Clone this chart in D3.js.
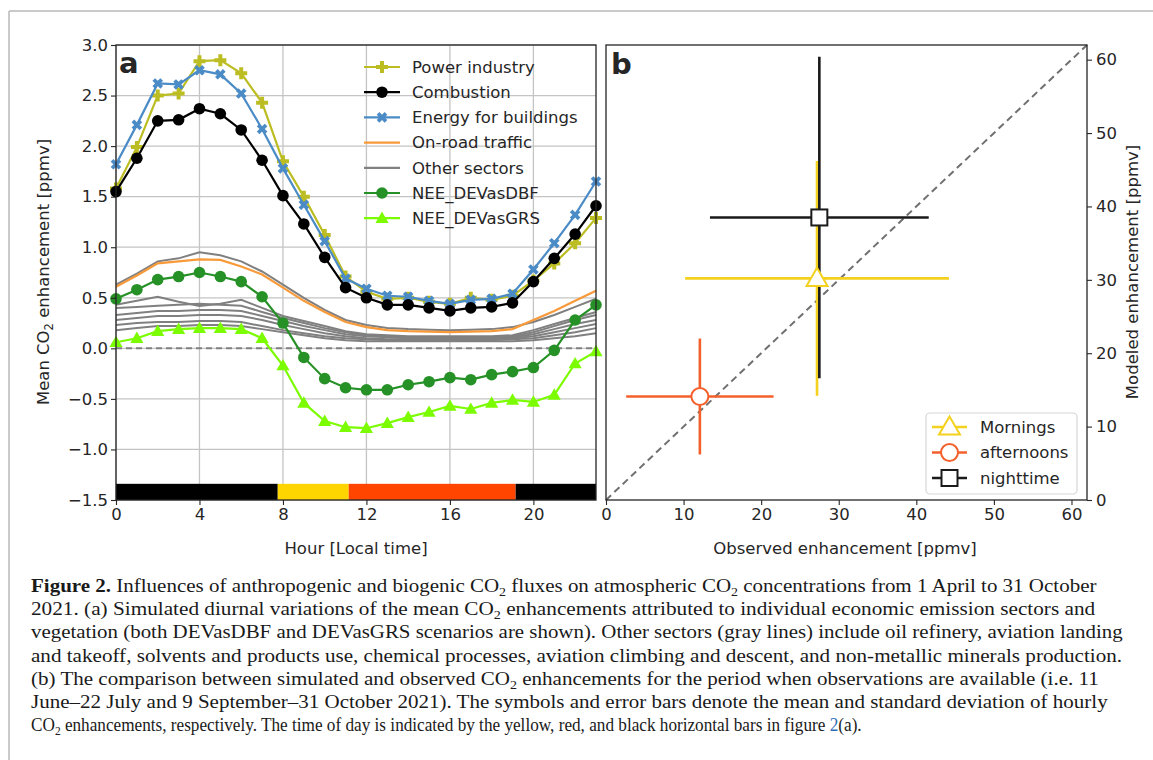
<!DOCTYPE html>
<html>
<head>
<meta charset="utf-8">
<script src="https://cdn.jsdelivr.net/npm/d3@7"></script>
<style>
body { margin: 0; background: #fff; }
svg text { font-family: "DejaVu Sans", sans-serif; fill: #262626; }
</style>
</head>
<body>
<svg id="fig" width="1153" height="760"></svg>
<script>
// ---- panel a data (hourly mean CO2 enhancement, ppmv) ----
const hours = [0,1,2,3,4,5,6,7,8,9,10,11,12,13,14,15,16,17,18,19,20,21,22,23];

const powerIndustry = [1.58,1.99,2.50,2.52,2.84,2.85,2.72,2.43,1.85,1.50,1.12,0.71,0.56,0.49,0.50,0.46,0.44,0.50,0.48,0.52,0.67,0.84,1.04,1.29];
const combustion    = [1.55,1.88,2.25,2.26,2.37,2.32,2.16,1.86,1.51,1.23,0.90,0.60,0.50,0.43,0.43,0.40,0.37,0.40,0.41,0.45,0.66,0.89,1.13,1.41];
const energyBuild   = [1.82,2.21,2.62,2.61,2.75,2.71,2.52,2.17,1.78,1.42,1.06,0.69,0.59,0.52,0.51,0.47,0.44,0.48,0.49,0.54,0.78,1.04,1.32,1.65];
const onRoad        = [0.61,0.72,0.84,0.86,0.88,0.875,0.81,0.73,0.60,0.47,0.36,0.26,0.21,0.18,0.17,0.165,0.16,0.165,0.17,0.19,0.28,0.37,0.47,0.57];
const neeDBF        = [0.49,0.58,0.68,0.71,0.75,0.71,0.66,0.51,0.25,-0.09,-0.30,-0.39,-0.41,-0.41,-0.36,-0.33,-0.29,-0.31,-0.26,-0.23,-0.19,-0.02,0.28,0.43];
const neeGRS        = [0.06,0.10,0.17,0.19,0.20,0.20,0.19,0.10,-0.17,-0.54,-0.72,-0.78,-0.79,-0.74,-0.68,-0.63,-0.57,-0.60,-0.54,-0.51,-0.53,-0.46,-0.15,-0.03];

// other sectors (gray lines)
const otherSectors = [
  [0.63,0.74,0.86,0.89,0.95,0.92,0.86,0.76,0.63,0.50,0.38,0.28,0.23,0.20,0.19,0.185,0.18,0.185,0.19,0.21,0.26,0.33,0.41,0.49],
  [0.43,0.47,0.51,0.46,0.42,0.44,0.48,0.40,0.32,0.27,0.22,0.17,0.14,0.13,0.12,0.12,0.12,0.12,0.12,0.13,0.18,0.24,0.30,0.36],
  [0.40,0.41,0.42,0.43,0.44,0.43,0.42,0.36,0.30,0.25,0.20,0.16,0.13,0.12,0.11,0.11,0.11,0.11,0.11,0.12,0.16,0.22,0.28,0.33],
  [0.33,0.35,0.37,0.37,0.38,0.38,0.37,0.32,0.27,0.22,0.18,0.14,0.12,0.11,0.10,0.10,0.10,0.10,0.10,0.11,0.14,0.19,0.24,0.28],
  [0.28,0.30,0.32,0.32,0.33,0.33,0.32,0.28,0.23,0.19,0.15,0.12,0.10,0.09,0.09,0.09,0.09,0.09,0.09,0.10,0.12,0.16,0.20,0.24],
  [0.23,0.25,0.26,0.26,0.27,0.27,0.26,0.22,0.18,0.15,0.12,0.10,0.09,0.08,0.08,0.08,0.08,0.08,0.08,0.09,0.10,0.13,0.16,0.20],
  [0.18,0.20,0.22,0.22,0.23,0.23,0.22,0.19,0.16,0.13,0.10,0.08,0.07,0.07,0.07,0.07,0.07,0.07,0.07,0.07,0.08,0.10,0.12,0.15]
];

// time-of-day bar along bottom of panel a
const periodStart = [0, 7.75, 11.15, 19.15];
const periodEnd   = [7.75, 11.15, 19.15, 23];
const periodColor = ["#000000", "#ffd500", "#ff4500", "#000000"];

// ---- panel b data (ppmv) ----
const periodNames = ["Mornings", "afternoons", "nighttime"];
const obsMean = [27.2, 12.1, 27.5];
const obsStd  = [17.0, 9.5, 14.1];
const modMean = [30.2, 14.1, 38.5];
const modStd  = [16.0, 7.9, 21.9];

const yTicksA = [-1.5,-1.0,-0.5,0.0,0.5,1.0,1.5,2.0,2.5,3.0];
const xTicksA = [0,4,8,12,16,20];
const ticksB  = [0,10,20,30,40,50,60];

const caption = [
  [["b","Figure 2. "],["","Influences of anthropogenic and biogenic CO"],["s","2"],["", " fluxes on atmospheric CO"],["s","2"],[""," concentrations from 1 April to 31 October"]],
  [["","2021. (a) Simulated diurnal variations of the mean CO"],["s","2"],[""," enhancements attributed to individual economic emission sectors and"]],
  [["","vegetation (both DEVasDBF and DEVasGRS scenarios are shown). Other sectors (gray lines) include oil refinery, aviation landing"]],
  [["","and takeoff, solvents and products use, chemical processes, aviation climbing and descent, and non-metallic minerals production."]],
  [["","(b) The comparison between simulated and observed CO"],["s","2"],[""," enhancements for the period when observations are available (i.e. 11"]],
  [["","June\u201322 July and 9 September\u201331 October 2021). The symbols and error bars denote the mean and standard deviation of hourly"]],
  [["","CO"],["s","2"],[""," enhancements, respectively. The time of day is indicated by the yellow, red, and black horizontal bars in figure "],["l","2"],["","(a)."]]
];
const captionEnd = [1097, 1096, 1123, 1123, 1100, 1108, 862];

const svg = d3.select("#fig");

// figure frame
svg.append("line").attr("x1", 9).attr("x2", 1153).attr("y1", 11).attr("y2", 11)
  .attr("stroke", "#b8b8b8").attr("stroke-width", 1.5);
svg.append("line").attr("x1", 9).attr("x2", 9).attr("y1", 11).attr("y2", 760)
  .attr("stroke", "#b8b8b8").attr("stroke-width", 1.5);

const fontSize = 16.5;

// ================= panel a =================
const xA = d3.scaleLinear().domain([0, 23]).range([116, 596]);
const yA = d3.scaleLinear().domain([-1.5, 3.0]).range([500, 45]);

const gA = svg.append("g");

// grid
gA.selectAll(".gx").data(xTicksA).join("line")
  .attr("x1", d => xA(d)).attr("x2", d => xA(d)).attr("y1", 45).attr("y2", 500)
  .attr("stroke", "#c4c4c4").attr("stroke-width", 1.3);
gA.selectAll(".gy").data(yTicksA).join("line")
  .attr("x1", 116).attr("x2", 596).attr("y1", d => yA(d)).attr("y2", d => yA(d))
  .attr("stroke", "#c4c4c4").attr("stroke-width", 1.3);

const lineA = d3.line().x((d, i) => xA(hours[i])).y(d => yA(d));

// other sectors
gA.selectAll(".other").data(otherSectors).join("path")
  .attr("d", lineA).attr("fill", "none").attr("stroke", "#808080").attr("stroke-width", 2);

// zero line
gA.append("line").attr("x1", 116).attr("x2", 596).attr("y1", yA(0)).attr("y2", yA(0))
  .attr("stroke", "#808080").attr("stroke-width", 2).attr("stroke-dasharray", "6,4");

const symX = d3.symbol().type(d3.symbolCross).size(70);
const symP = d3.symbol().type(d3.symbolCross).size(80);
const symTri = d3.symbol().type(d3.symbolTriangle).size(75);

const seriesA = [
  {name: "On-road traffic", values: onRoad, color: "#f89a3a", marker: null},
  {name: "Power industry", values: powerIndustry, color: "#bcbd22", marker: "P"},
  {name: "Energy for buildings", values: energyBuild, color: "#4b8bc6", marker: "X"},
  {name: "Combustion", values: combustion, color: "#000000", marker: "o"},
  {name: "NEE_DEVasDBF", values: neeDBF, color: "#269126", marker: "o"},
  {name: "NEE_DEVasGRS", values: neeGRS, color: "#7cfc00", marker: "^"}
];

function drawMarker(sel, marker, color, x, y) {
  if (marker === "o") {
    sel.append("circle").attr("cx", x).attr("cy", y).attr("r", 5.8).attr("fill", color);
  } else if (marker === "X") {
    sel.append("path").attr("d", symX()).attr("fill", color)
      .attr("transform", `translate(${x},${y}) rotate(45)`);
  } else if (marker === "P") {
    sel.append("path").attr("d", symP()).attr("fill", color)
      .attr("transform", `translate(${x},${y})`);
  } else if (marker === "^") {
    sel.append("path").attr("d", symTri()).attr("fill", color)
      .attr("transform", `translate(${x},${y + 1})`);
  }
}

seriesA.forEach(s => {
  gA.append("path").attr("d", lineA(s.values)).attr("fill", "none")
    .attr("stroke", s.color).attr("stroke-width", 2.2);
  if (s.marker) {
    const mg = gA.append("g");
    s.values.forEach((v, i) => drawMarker(mg, s.marker, s.color, xA(hours[i]), yA(v)));
  }
});

// time-of-day bar
gA.selectAll(".tod").data(periodStart).join("rect")
  .attr("x", d => xA(d)).attr("width", (d, i) => xA(periodEnd[i]) - xA(d))
  .attr("y", yA(-1.34)).attr("height", yA(-1.5) - yA(-1.34))
  .attr("fill", (d, i) => periodColor[i]);

// axes a
const axLeftA = gA.append("g").attr("transform", "translate(116,0)")
  .call(d3.axisLeft(yA).tickValues(yTicksA).tickFormat(d3.format(".1f")).tickSize(5).tickSizeOuter(0));
const axBotA = gA.append("g").attr("transform", "translate(0,500)")
  .call(d3.axisBottom(xA).tickValues(xTicksA).tickFormat(d3.format("d")).tickSize(5).tickSizeOuter(0));
[axLeftA, axBotA].forEach(a => {
  a.select(".domain").remove();
  a.selectAll("text").style("font-size", fontSize + "px").attr("fill", "#262626");
  a.selectAll("line").attr("stroke", "#262626").attr("stroke-width", 1.1);
});
axLeftA.selectAll("text").attr("x", -8);
axBotA.selectAll("text").attr("y", 8);
gA.append("rect").attr("x", 116).attr("y", 45).attr("width", 480).attr("height", 455)
  .attr("fill", "none").attr("stroke", "#262626").attr("stroke-width", 1.3);

gA.append("text").attr("x", 119).attr("y", 73).text("a")
  .style("font-size", "29px").style("font-weight", "bold").attr("fill", "#000");

gA.append("text").attr("x", 356).attr("y", 554).attr("text-anchor", "middle")
  .style("font-size", fontSize + "px").text("Hour [Local time]");
const ylabA = gA.append("text").attr("transform", "translate(49,272) rotate(-90)")
  .attr("text-anchor", "middle").style("font-size", fontSize + "px");
ylabA.append("tspan").text("Mean CO");
ylabA.append("tspan").text("2").style("font-size", "11.5px").attr("dy", 4);
ylabA.append("tspan").text(" enhancement [ppmv]").attr("dy", -4);

// legend a (no frame)
const legA = [
  {name: "Power industry", color: "#bcbd22", marker: "P"},
  {name: "Combustion", color: "#000000", marker: "o"},
  {name: "Energy for buildings", color: "#4b8bc6", marker: "X"},
  {name: "On-road traffic", color: "#f89a3a", marker: null},
  {name: "Other sectors", color: "#808080", marker: null},
  {name: "NEE_DEVasDBF", color: "#269126", marker: "o"},
  {name: "NEE_DEVasGRS", color: "#7cfc00", marker: "^"}
];
legA.forEach((d, i) => {
  const y = 67 + i * 25.2;
  const g = gA.append("g");
  g.append("line").attr("x1", 364).attr("x2", 400).attr("y1", y).attr("y2", y)
    .attr("stroke", d.color).attr("stroke-width", 2.2);
  if (d.marker) drawMarker(g, d.marker, d.color, 382, y);
  g.append("text").attr("x", 412).attr("y", y).attr("dy", "0.35em")
    .style("font-size", fontSize + "px").text(d.name);
});

// ================= panel b =================
const xB = d3.scaleLinear().domain([0, 62]).range([606, 1087]);
const yB = d3.scaleLinear().domain([0, 62]).range([500, 45]);
const gB = svg.append("g");
const colB = ["#f3d11e", "#f4602c", "#1a1a1a"];

gB.append("line").attr("x1", xB(0)).attr("y1", yB(0)).attr("x2", xB(62)).attr("y2", yB(62))
  .attr("stroke", "#707070").attr("stroke-width", 2).attr("stroke-dasharray", "7,4.5");

const order = [0, 1, 2];
order.forEach(i => {
  const g = gB.append("g");
  g.append("line").attr("x1", xB(obsMean[i] - obsStd[i])).attr("x2", xB(obsMean[i] + obsStd[i]))
    .attr("y1", yB(modMean[i])).attr("y2", yB(modMean[i]))
    .attr("stroke", colB[i]).attr("stroke-width", 2.6);
  g.append("line").attr("x1", xB(obsMean[i])).attr("x2", xB(obsMean[i]))
    .attr("y1", yB(modMean[i] - modStd[i])).attr("y2", yB(modMean[i] + modStd[i]))
    .attr("stroke", colB[i]).attr("stroke-width", 2.6);
});

function drawMarkerB(sel, i, x, y) {
  if (i === 0) {
    sel.append("path").attr("d", d3.symbol().type(d3.symbolTriangle).size(190)())
      .attr("transform", `translate(${x},${y + 1.5})`)
      .attr("fill", "#fff").attr("stroke", colB[i]).attr("stroke-width", 2);
  } else if (i === 1) {
    sel.append("circle").attr("cx", x).attr("cy", y).attr("r", 8.5)
      .attr("fill", "#fff").attr("stroke", colB[i]).attr("stroke-width", 2);
  } else {
    sel.append("rect").attr("x", x - 8).attr("y", y - 8).attr("width", 16).attr("height", 16)
      .attr("fill", "#fff").attr("stroke", colB[i]).attr("stroke-width", 2);
  }
}
order.forEach(i => drawMarkerB(gB, i, xB(obsMean[i]), yB(modMean[i])));

// axes b
const axBotB = gB.append("g").attr("transform", "translate(0,500)")
  .call(d3.axisBottom(xB).tickValues(ticksB).tickFormat(d3.format("d")).tickSize(5).tickSizeOuter(0));
const axRightB = gB.append("g").attr("transform", "translate(1087,0)")
  .call(d3.axisRight(yB).tickValues(ticksB).tickFormat(d3.format("d")).tickSize(5).tickSizeOuter(0));
[axBotB, axRightB].forEach(a => {
  a.select(".domain").remove();
  a.selectAll("text").style("font-size", fontSize + "px").attr("fill", "#262626");
  a.selectAll("line").attr("stroke", "#262626").attr("stroke-width", 1.1);
});
axBotB.selectAll("text").attr("y", 8);
axRightB.selectAll("text").attr("x", 9);
gB.append("rect").attr("x", 606).attr("y", 45).attr("width", 481).attr("height", 455)
  .attr("fill", "none").attr("stroke", "#262626").attr("stroke-width", 1.3);

gB.append("text").attr("x", 611).attr("y", 74).text("b")
  .style("font-size", "29px").style("font-weight", "bold").attr("fill", "#000");
gB.append("text").attr("x", 845).attr("y", 554).attr("text-anchor", "middle")
  .style("font-size", fontSize + "px").text("Observed enhancement [ppmv]");
gB.append("text").attr("transform", "translate(1138,272) rotate(-90)")
  .attr("text-anchor", "middle").style("font-size", fontSize + "px")
  .text("Modeled enhancement [ppmv]");

// legend b
gB.append("rect").attr("x", 926).attr("y", 413).attr("width", 151).attr("height", 81).attr("rx", 4)
  .attr("fill", "#fff").attr("fill-opacity", 0.8).attr("stroke", "#d6d6d6").attr("stroke-width", 1.2);
periodNames.forEach((name, i) => {
  const y = 427 + i * 25.5;
  const g = gB.append("g");
  g.append("line").attr("x1", 932).attr("x2", 967).attr("y1", y).attr("y2", y)
    .attr("stroke", colB[i]).attr("stroke-width", 2.6);
  drawMarkerB(g, i, 949.5, y);
  g.append("text").attr("x", 980).attr("y", y).attr("dy", "0.35em")
    .style("font-size", fontSize + "px").text(name);
});

// ================= caption =================
const capG = svg.append("g");
caption.forEach((parts, li) => {
  const y = 592 + li * 23.2;
  const t = capG.append("text").attr("transform", `translate(31,${y})`)
    .style("font-family", "'Liberation Serif', 'DejaVu Serif', serif")
    .style("font-size", "19.5px").attr("fill", "#1a1a1a");
  let prevSub = false;
  parts.forEach(([kind, str]) => {
    const ts = t.append("tspan").text(str).attr("fill", "#1a1a1a");
    if (kind === "s") {
      ts.style("font-size", "13px").attr("dy", 4);
      prevSub = true;
    } else {
      if (prevSub) ts.attr("dy", -4);
      prevSub = false;
    }
    if (kind === "b") ts.style("font-weight", "bold");
    if (kind === "l") ts.attr("fill", "#2d6fb7");
  });
  const w = t.node().getComputedTextLength();
  const k = (captionEnd[li] - 31) / w;
  t.attr("transform", `translate(31,${y}) scale(${k},1)`);
});
</script>
</body>
</html>
